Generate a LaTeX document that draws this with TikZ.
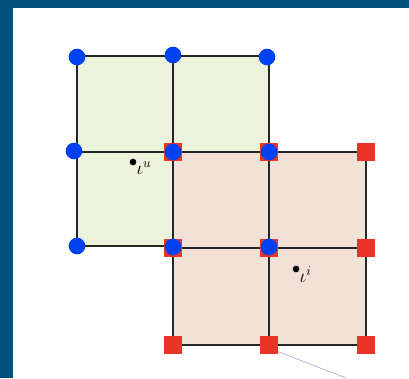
\documentclass[tikz,border=0pt]{standalone}
\usepackage{amsmath,amssymb}
\usetikzlibrary{positioning,calc}
\definecolor{frameblue}{HTML}{00527C}
\definecolor{cellgreen}{HTML}{EDF2DC}
\definecolor{cellred}{HTML}{F2E1D7}
\definecolor{dotblue}{HTML}{0042F2}
\definecolor{sqred}{HTML}{EC3329}
\definecolor{thinline}{HTML}{B8B8E0}
\begin{document}
\begin{tikzpicture}[x=0.75pt, y=-0.75pt,
    bdot/.style={circle, fill=dotblue, inner sep=0pt, minimum size=12.5pt},
    rsq/.style={rectangle, fill=sqred, inner sep=0pt, minimum size=14pt},
    grd/.style={draw=black!85, line width=0.9pt},
    lbl/.style={font=\Large, inner sep=1pt, anchor=west}
]
% frame and background
\fill[frameblue] (0,0) rectangle (409,378);
\fill[white] (13,8) rectangle (409,378);
\useasboundingbox (0,0) rectangle (409,378);

% cells
\fill[cellgreen] (77,56) rectangle (269,152);
\fill[cellgreen] (77,152) rectangle (173,246);
\fill[cellred] (173,152) rectangle (366,345);

% grid lines
\draw[grd] (77,56) -- (269,56) -- (269,152);
\draw[grd] (77,56) -- (77,246) -- (173,246);
\draw[grd] (173,56) -- (173,152);
\draw[grd] (77,152) -- (173,152);
\draw[grd] (173,152) rectangle (366,345);
\draw[grd] (269,152) -- (269,345);
\draw[grd] (173,248) -- (366,248);

% leader line
\coordinate (lineA) at (274,350);
\coordinate (lineB) at (346,378);
\draw[thinline, line width=0.6pt] (lineA) -- (lineB);

% red squares
\foreach \i/\x in {1/173,2/269,3/366}{
  \foreach \j/\y in {1/152,2/248,3/345}{
    \node[rsq] (r\i\j) at (\x,\y) {};
  }
}

% blue dots
\node[bdot] (b11) at (77,57) {};
\node[bdot] (b21) at (173,55) {};
\node[bdot] (b31) at (267,57) {};
\node[bdot] (b12) at (74,151) {};
\node[bdot] (b22) at (173,152) {};
\node[bdot] (b32) at (269,152) {};
\node[bdot] (b13) at (77,246) {};
\node[bdot] (b23) at (173,247) {};
\node[bdot] (b33) at (269,247) {};

% labels
\fill (133,162) circle (2.5pt);
\node[lbl] (lu) at (135,168) {$\iota^{u}$};
\fill (296,269) circle (2.5pt);
\node[lbl] (li) at (298,275) {$\iota^{i}$};
\end{tikzpicture}
\end{document}
